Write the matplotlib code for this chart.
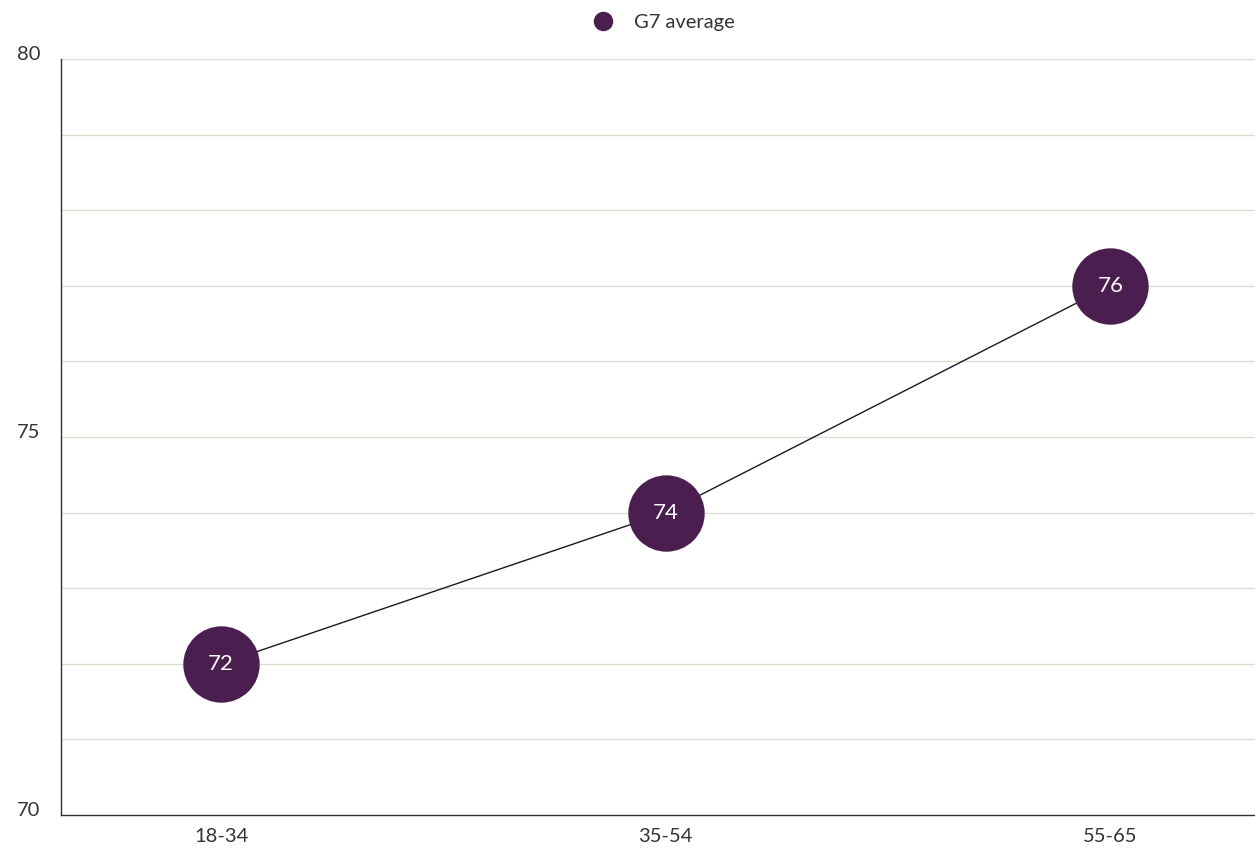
import matplotlib
matplotlib.use("Agg")
import matplotlib.pyplot as plt
import matplotlib.transforms as mtransforms
from matplotlib.lines import Line2D

categories = ["18-34", "35-54", "55-65"]
values = [72, 74, 77]
value_labels = ["72", "74", "76"]
series_name = "G7 average"
y_ticks = [70, 75, 80]

plt.rcParams['font.family'] = ['Lato', 'DejaVu Sans']

fig = plt.figure(figsize=(12.55, 8.48), dpi=100)
ax = fig.add_axes([61/1255, 33/848, 1194/1255, 756/848])

purple = "#4a1f4f"
x = list(range(len(categories)))
ax.plot(x, values, color="#1a1a1a", lw=1.0, zorder=3)
ax.plot(x, values, 'o', color=purple, markersize=55, markeredgewidth=0, zorder=4)
for xi, v, lab in zip(x, values, value_labels):
    ax.text(xi, v, lab, ha='center', va='center', color='white', fontsize=16,
            zorder=5)

ax.set_ylim(70, 80)
ax.set_xlim(-0.36, 2.325)
ax.set_yticks(y_ticks)
ax.set_yticks(range(70, 81), minor=True)
ax.set_xticks(x)
ax.set_xticklabels(categories)
ax.grid(axis='y', which='both', color='#dcdcd0', lw=1)
ax.set_axisbelow(True)
ax.tick_params(axis='both', which='both', length=0, labelsize=14.5, labelcolor='#333333')
ax.tick_params(axis='y', pad=15)
ax.tick_params(axis='x', pad=9)
offset = mtransforms.ScaledTranslation(0, 6/100, fig.dpi_scale_trans)
for lab in ax.get_yticklabels():
    lab.set_transform(lab.get_transform() + offset)
for s in ['top', 'right']:
    ax.spines[s].set_visible(False)
for s in ['left', 'bottom']:
    ax.spines[s].set_color('#333333')
    ax.spines[s].set_linewidth(1)

handle = Line2D([], [], marker='o', color=purple, linestyle='None', markersize=13)
leg = fig.legend([handle], [series_name], loc='upper center', bbox_to_anchor=(0.525, 1.005),
                 frameon=False, prop={'size': 14.5}, handletextpad=0.5)
for t in leg.get_texts():
    t.set_color('#333333')

fig.savefig("out.png", dpi=100)
